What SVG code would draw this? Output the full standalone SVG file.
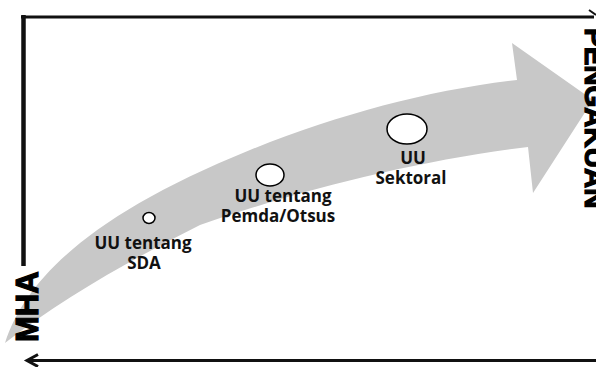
<svg xmlns="http://www.w3.org/2000/svg" width="596" height="367" viewBox="0 0 596 367">
<style>
.lbl{font-family:"Open Sans","DejaVu Sans",sans-serif;font-weight:700;font-size:17px;fill:#111;text-anchor:middle}
.big{font-family:"Liberation Sans",Arial,sans-serif;font-weight:700;fill:#000;stroke:#000;stroke-width:1.2}
.dot{fill:#fff;stroke:#000;stroke-width:1.5}
.ln{stroke:#111;fill:none;stroke-linecap:butt}
</style>
<rect width="596" height="367" fill="#fff"/>
<g id="trend-arrow">
<path d="M5,343 C25,280 90,215 250,150 C340,114 430,90 517,80 L512,43 L593,100 L533,193 L528,147 C420,160 300,190 200,225 C130,260 60,300 5,343 Z" fill="#c8c8c8"/>
</g>
<g id="connectors">
<line class="ln" x1="21" y1="17" x2="594" y2="17" stroke-width="3"/>
<polyline class="ln" points="589,10 596,15" stroke-width="2"/>
<line class="ln" x1="23.5" y1="15" x2="23.5" y2="266" stroke-width="4.5" stroke="#000"/>
<line class="ln" x1="28" y1="360.5" x2="596" y2="360.5" stroke-width="3"/>
<polyline class="ln" points="38,354.5 27,360.5 38,366.5" stroke-width="3"/>
</g>
<g id="node-sda">
<ellipse class="dot" cx="149" cy="218" rx="6" ry="5.5"/>
<text class="lbl"><tspan x="143" y="249">UU tentang</tspan><tspan x="144" y="269">SDA</tspan></text>
</g>
<g id="node-pemda">
<ellipse class="dot" cx="270" cy="175" rx="14" ry="11"/>
<text class="lbl"><tspan x="283" y="202">UU tentang</tspan><tspan x="278" y="222">Pemda/Otsus</tspan></text>
</g>
<g id="node-sektoral">
<ellipse class="dot" cx="407" cy="129" rx="20" ry="15"/>
<text class="lbl"><tspan x="413" y="164">UU</tspan><tspan x="411" y="184">Sektoral</tspan></text>
</g>
<g id="node-mha">
<text class="big" font-size="31" transform="translate(38,342) rotate(-90)">MHA</text>
</g>
<g id="node-right">
<text class="big" font-size="28" transform="translate(585,28) rotate(90)">PENGAKUAN</text>
</g>
</svg>
